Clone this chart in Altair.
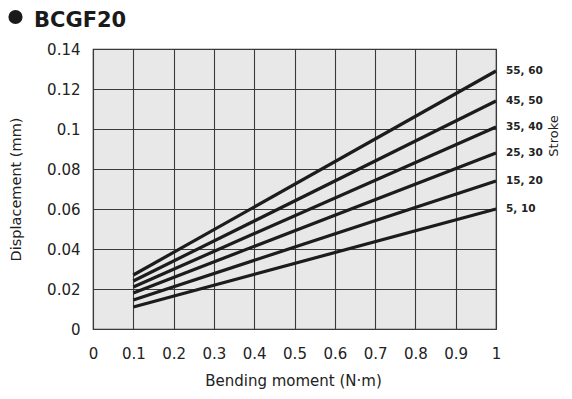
import altair as alt
import pandas as pd

# ---- data ----
strokes = ["5, 10", "15, 20", "25, 30", "35, 40", "45, 50", "55, 60"]
moment_start = 0.1
moment_end = 1.0
disp_start = [0.011, 0.0145, 0.018, 0.021, 0.024, 0.027]
disp_end = [0.060, 0.074, 0.088, 0.101, 0.114, 0.129]
x_ticks = [i / 10 for i in range(11)]
y_ticks = [i / 50 for i in range(8)]
chart_title = "BCGF20"

rows = []
for s, a, b in zip(strokes, disp_start, disp_end):
    rows.append({"stroke": s, "moment": moment_start, "disp": a})
    rows.append({"stroke": s, "moment": moment_end, "disp": b})
df = pd.DataFrame(rows)
ends = pd.DataFrame({"stroke": strokes, "moment": [moment_end] * len(strokes), "disp": disp_end})

FONT = "DejaVu Sans"
xs = alt.Scale(domain=[0, 1], nice=False, zero=False)
ys = alt.Scale(domain=[0, 0.14], nice=False)

x_axis = alt.Axis(values=x_ticks, format="~g", title="Bending moment (N·m)", grid=True,
                  ticks=False, domain=False, labelPadding=17, labelFontSize=15,
                  labelOverlap=False, labelFlush=False,
                  titleFontSize=15, titleX=200, titleY=56, titleBaseline="alphabetic",
                  titleAnchor="middle", titleAlign="center")
y_axis = alt.Axis(values=y_ticks, format="~g", title="Displacement (mm)", grid=True,
                  ticks=False, domain=False, labelPadding=13, labelFontSize=15,
                  labelOverlap=False, labelFlush=False,
                  titleFontSize=14.5, titleX=-77, titleY=140, titleAngle=270,
                  titleBaseline="middle", titleAlign="center")

lines = alt.Chart(df).mark_line(color="#1c1c1c", strokeWidth=3.2).encode(
    x=alt.X("moment:Q", scale=xs, axis=x_axis),
    y=alt.Y("disp:Q", scale=ys, axis=y_axis),
    detail="stroke:N",
)

labels = alt.Chart(ends).mark_text(align="left", baseline="middle", dx=10, font=FONT,
                                   fontWeight="bold", fontSize=10.5, color="#222").encode(
    x=alt.X("moment:Q", scale=xs, axis=x_axis),
    y=alt.Y("disp:Q", scale=ys, axis=y_axis),
    text="stroke:N",
)

stroke_title = alt.Chart(pd.DataFrame({"t": ["Stroke"]})).mark_text(
    angle=270, align="center", baseline="middle", font=FONT, fontSize=13, color="#222"
).encode(x=alt.value(461), y=alt.value(87), text="t:N")

dot = alt.Chart(pd.DataFrame({"t": [chart_title]})).mark_point(
    shape="circle", filled=True, size=200, color="#1a1a1a", opacity=1
).encode(x=alt.value(-77.5), y=alt.value(-32))

title_text = alt.Chart(pd.DataFrame({"t": [chart_title]})).mark_text(
    align="left", baseline="alphabetic", font=FONT, fontWeight="bold", fontSize=21, color="#1a1a1a"
).encode(x=alt.value(-59), y=alt.value(-22), text="t:N")

chart = alt.layer(lines, labels, stroke_title, dot, title_text).properties(
    width=403, height=280,
    autosize=alt.AutoSizeParams(type="none"),
    padding={"left": 85, "top": 41, "right": 68, "bottom": 62},
).configure_view(
    fill="#e8e8e8", stroke="#333333", strokeWidth=1.2
).configure_axis(
    gridColor="#3a3a3a", gridWidth=1.1, gridOpacity=1,
    labelColor="#222222", titleColor="#222222",
    labelFont=FONT, titleFont=FONT, titleFontWeight="normal",
)

chart.save("out.html", embed_options={"renderer": "svg", "actions": False})
